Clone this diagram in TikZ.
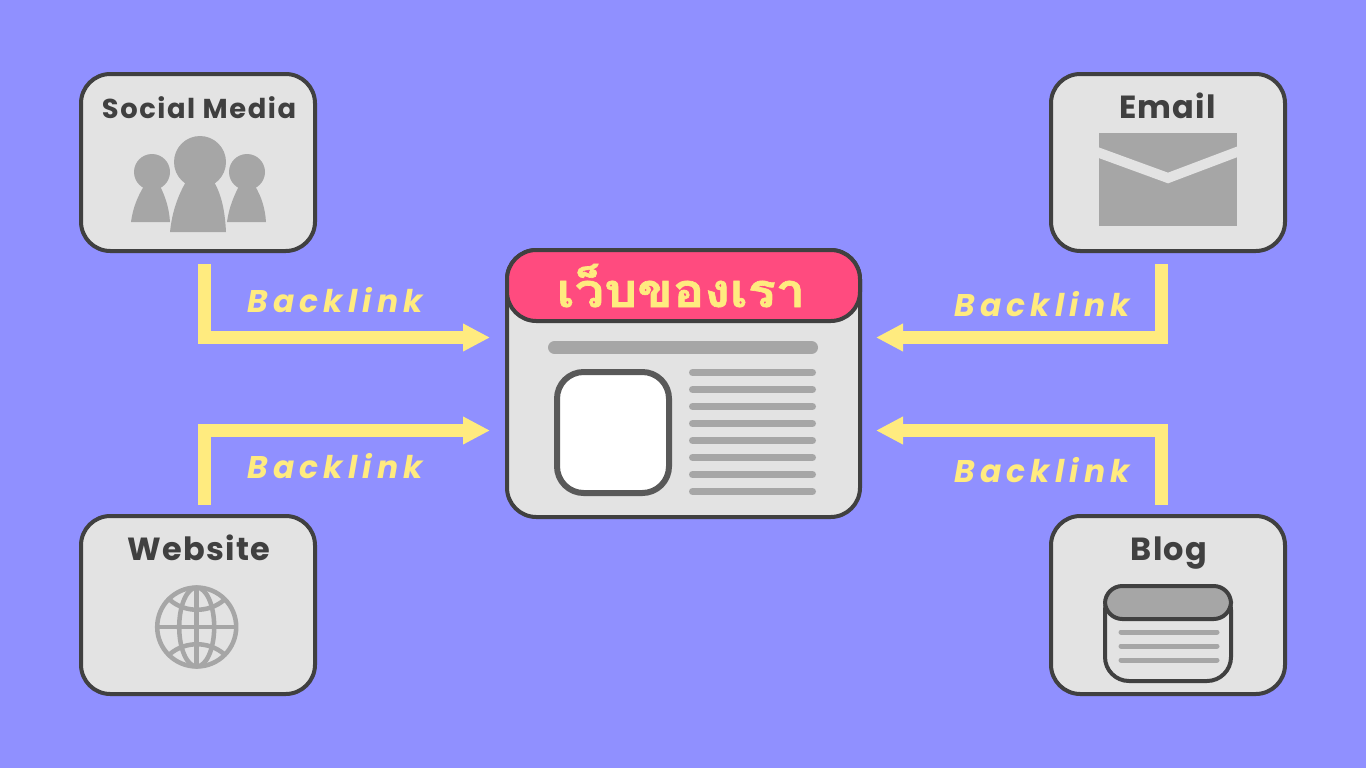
\documentclass[tikz,border=0pt]{standalone}
\usepackage{fontspec}
\usetikzlibrary{arrows.meta}
\setmainfont{Poppins}[BoldFont={Poppins Bold}]
\newfontfamily\titlefont[LetterSpace=5.8]{Poppins Bold}
\newfontfamily\bigfont[LetterSpace=4]{Poppins Bold}
\newfontfamily\linkfont[LetterSpace=16.5]{Poppins Bold Italic}
\newfontfamily\thaifont[Script=Thai,FakeBold=1.4,FakeStretch=1.12]{Loma Bold}
\definecolor{bgc}{HTML}{9090FF}
\definecolor{boxc}{HTML}{E3E3E3}
\definecolor{edgec}{HTML}{404040}
\definecolor{greyc}{HTML}{A6A6A6}
\definecolor{yellowc}{HTML}{FFEB7F}
\definecolor{pinkc}{HTML}{FF4B7F}
\definecolor{picc}{HTML}{595959}
\tikzset{
  x=0.75pt,y=-0.75pt,
  card/.style={draw=edgec,fill=boxc,line width=3pt,rounded corners=22pt},
  cardlabel/.style={text=edgec,font=\titlefont\fontsize{20.5}{24}\selectfont,inner sep=0pt,anchor=base},
  biglabel/.style={cardlabel,font=\bigfont\fontsize{24}{27}\selectfont},
  linklabel/.style={text=yellowc,font=\linkfont\fontsize{23.5}{26}\selectfont,inner sep=0pt,anchor=base},
  flow/.style={draw=yellowc,line width=9.75pt,line join=miter,-{Triangle[length=20.25pt,width=19.5pt]}},
  greybar/.style={draw=greyc,line cap=round},
  sil/.style={fill=greyc,draw=none},
}
\begin{document}
\begin{tikzpicture}
\useasboundingbox (0,0) rectangle (1366,768);
\fill[bgc] (0,0) rectangle (1366,768);
% cards
\draw[card] (81,74) rectangle (315,251);
\draw[card] (1051,74) rectangle (1285,251);
\draw[card] (81,516) rectangle (315,694);
\draw[card] (1051,516) rectangle (1285,694);
\coordinate (socialout) at (204.5,264);
\coordinate (emailout) at (1161.5,264);
\coordinate (webout) at (204.5,505);
\coordinate (blogout) at (1161.5,505);
\coordinate (inUL) at (490,337.5);
\coordinate (inUR) at (876,337.5);
\coordinate (inLL) at (490,430.5);
\coordinate (inLR) at (876,430.5);
\draw[flow] (socialout) |- (inUL);
\draw[flow] (emailout) |- (inUR);
\draw[flow] (webout) |- (inLL);
\draw[flow] (blogout) |- (inLR);
% card labels
\node[cardlabel] (lsocial) at (199,118) {Social Media};
\node[biglabel] (lemail) at (1167.5,118) {Email};
\node[biglabel] (lweb) at (199,560) {Website};
\node[biglabel] (lblog) at (1169,560) {Blog};
\node[linklabel] (b1) at (335,312) {Backlink};
\node[linklabel] (b2) at (1042,316) {Backlink};
\node[linklabel] (b3) at (335,478) {Backlink};
\node[linklabel] (b4) at (1042,482) {Backlink};
% people
\fill[sil] (200,162) circle (26);
\fill[sil] (170,232) .. controls (172,212) and (178,195) .. (187,180) -- (213,180) .. controls (222,195) and (225,212) .. (226,232) -- cycle;
\fill[sil] (152,172) circle (18);
\fill[sil] (131,222) .. controls (133,207) and (138,196) .. (144,186) -- (160,186) .. controls (165,196) and (169,207) .. (170,222) -- cycle;
\fill[sil] (247,172) circle (18);
\fill[sil] (227,222) .. controls (229,207) and (234,196) .. (239,186) -- (255,186) .. controls (261,196) and (265,207) .. (266,222) -- cycle;
% email
\fill[sil] (1099,133) rectangle (1237,226);
\begin{scope}
\clip (1099,133) rectangle (1237,226);
\draw[boxc,line width=7.5pt,line join=miter] (1090,149.5) -- (1168,178) -- (1246,148.5);
\end{scope}
% globe
\begin{scope}[greyc,line width=3.4pt]
\draw (196.7,627) circle (39.5);
\draw (196.7,588) -- (196.7,666);
\draw (158,627) -- (236,627);
\draw (196.7,627) ellipse (17.5 and 39.5);
\draw (170,600) .. controls (185,613) and (209,613) .. (224,600);
\draw (170,654) .. controls (185,641) and (209,641) .. (224,654);
\end{scope}
% blog
\draw[draw=edgec,fill=boxc,line width=3pt,rounded corners=18pt] (1105,586) rectangle (1231,681);
\draw[draw=edgec,fill=greyc,line width=3pt,rounded corners=13pt] (1105,586) rectangle (1231,619);
\foreach \yy in {632,646,660} \draw[greybar,line width=3.75pt] (1121,\yy) -- (1217,\yy);
% main page
\draw[card] (507,250) rectangle (860,517);
\draw[draw=edgec,fill=pinkc,line width=3pt,rounded corners=22pt] (507,250) rectangle (860,321);
\node[text=yellowc,inner sep=0pt,anchor=base,font=\thaifont\fontsize{35}{40}\selectfont] (title) at (681,307) {เว็บของเรา};
\draw[greybar,line width=9.75pt] (554.5,347.5) -- (811.5,347.5);
\draw[draw=picc,fill=white,line width=4.5pt,rounded corners=20pt] (557,372) rectangle (669,493);
\foreach \yy in {372.5,389.5,406.5,423.5,440.5,457.5,474.5,491.5} \draw[greybar,line width=5.25pt] (692.5,\yy) -- (812.5,\yy);
\end{tikzpicture}
\end{document}
